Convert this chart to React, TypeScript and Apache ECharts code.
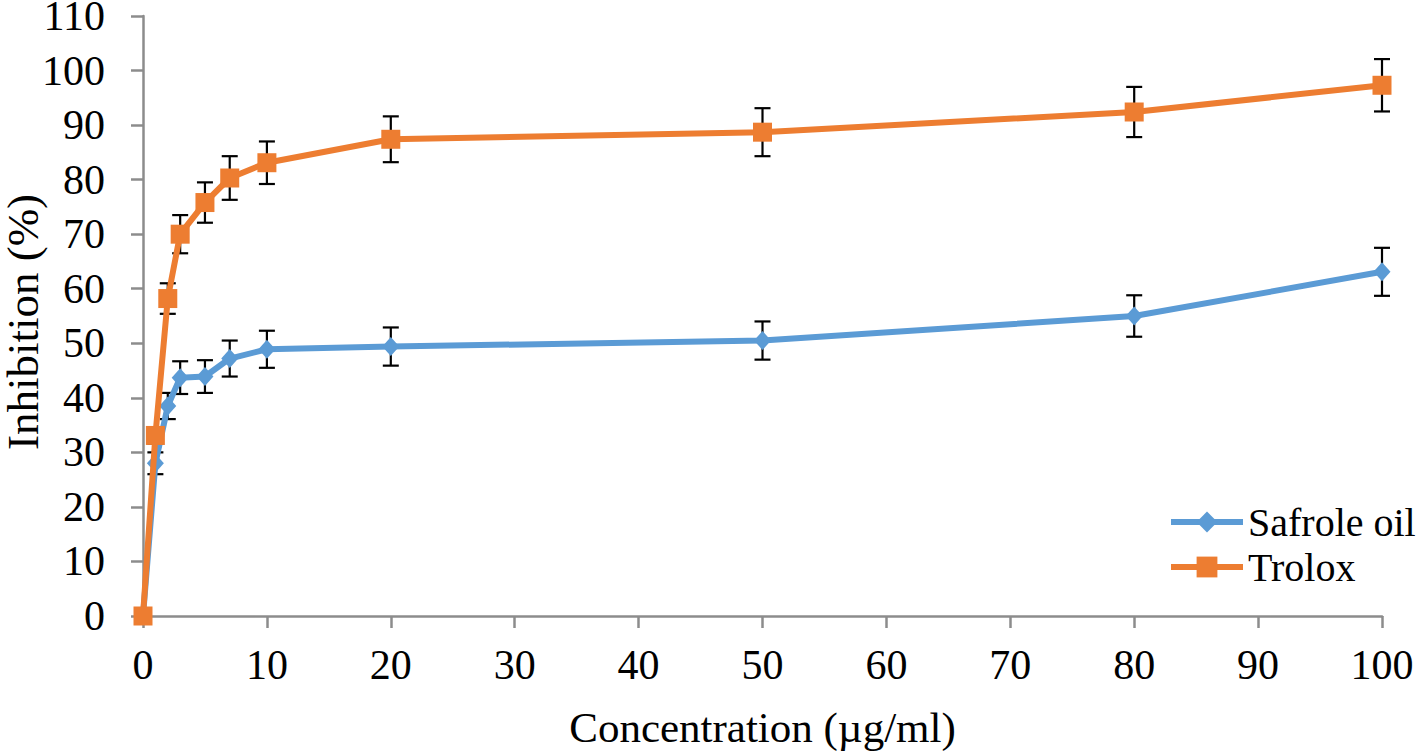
import React, { useEffect, useRef } from "react";
import * as echarts from "echarts";

const xValues = [0, 1, 2, 3, 5, 7, 10, 20, 50, 80, 100];
const safrole = [0, 28.0, 38.5, 43.7, 43.9, 47.2, 48.9, 49.4, 50.5, 55.0, 63.1];
const safroleErr = [0, 2.0, 2.4, 3.0, 3.0, 3.3, 3.4, 3.5, 3.5, 3.8, 4.4];
const trolox = [0, 33.1, 58.2, 70.0, 75.8, 80.3, 83.1, 87.4, 88.7, 92.4, 97.3];
const troloxErr = [0, 1.5, 2.8, 3.5, 3.7, 4.0, 3.9, 4.2, 4.4, 4.6, 4.8];
const seriesNames = ["Safrole oil", "Trolox"];
const xTitle = "Concentration (µg/ml)";
const yTitle = "Inhibition (%)";

const FONT = "Liberation Serif, Times New Roman, serif";
const BLUE = "#5B9BD5";
const ORANGE = "#ED7D31";
const AXIS = "#8C8C8C";

function errorSeries(values: number[], errs: number[]) {
  return {
    type: "custom",
    z: 1,
    silent: true,
    encode: { x: 0, y: 1 },
    data: xValues.map((x, i) => [x, values[i], errs[i]]),
    renderItem: (params: any, api: any) => {
      const x = api.value(0);
      const y = api.value(1);
      const e = api.value(2);
      if (!e) return null;
      const top = api.coord([x, y + e]);
      const bot = api.coord([x, y - e]);
      const hw = 8;
      const style = { stroke: "#000", lineWidth: 2.2 };
      return {
        type: "group",
        children: [
          { type: "line", shape: { x1: top[0], y1: top[1], x2: bot[0], y2: bot[1] }, style },
          { type: "line", shape: { x1: top[0] - hw, y1: top[1], x2: top[0] + hw, y2: top[1] }, style },
          { type: "line", shape: { x1: bot[0] - hw, y1: bot[1], x2: bot[0] + hw, y2: bot[1] }, style },
        ],
      };
    },
  };
}

export default function App() {
  const ref = useRef<HTMLDivElement>(null);
  useEffect(() => {
    if (!ref.current) return;
    const chart = echarts.init(ref.current, null, { renderer: "svg" });
    chart.setOption({
      animation: false,
      backgroundColor: "#fff",
      grid: {
        left: 143,
        right: 36,
        top: 16,
        bottom: 136,
        containLabel: false,
        outerBoundsMode: "none",
      },
      legend: {
        orient: "vertical",
        left: 1163,
        top: 497,
        itemWidth: 72,
        itemHeight: 26,
        itemGap: 5,
        data: seriesNames,
        lineStyle: { width: 6 },
        textStyle: { fontFamily: FONT, fontSize: 40, color: "#000" },
      },
      xAxis: {
        type: "value",
        min: 0,
        max: 100,
        interval: 10,
        name: xTitle,
        nameLocation: "middle",
        nameGap: 90,
        nameTextStyle: { fontFamily: FONT, fontSize: 43, color: "#000" },
        axisLine: { show: true, lineStyle: { color: AXIS, width: 2.5 } },
        axisTick: { show: true, length: 12, lineStyle: { color: AXIS, width: 2.5 } },
        axisLabel: { fontFamily: FONT, fontSize: 42, color: "#000", margin: 28 },
        splitLine: { show: false },
      },
      yAxis: {
        type: "value",
        min: 0,
        max: 110,
        interval: 10,
        name: yTitle,
        nameLocation: "middle",
        nameGap: 98,
        nameMoveOverlap: false,
        nameTextStyle: { fontFamily: FONT, fontSize: 45, color: "#000", padding: [0, 12, 0, 0] },
        axisLine: { show: true, lineStyle: { color: AXIS, width: 2.5 } },
        axisTick: { show: true, length: 12, lineStyle: { color: AXIS, width: 2.5 } },
        axisLabel: { fontFamily: FONT, fontSize: 42, color: "#000", margin: 38 },
        splitLine: { show: false },
      },
      series: [
        errorSeries(safrole, safroleErr),
        errorSeries(trolox, troloxErr),
        {
          name: seriesNames[0],
          type: "line",
          z: 2,
          data: xValues.map((x, i) => [x, safrole[i]]),
          symbol: "diamond",
          symbolSize: [17, 19],
          lineStyle: { color: BLUE, width: 6 },
          itemStyle: { color: BLUE },
        },
        {
          name: seriesNames[1],
          type: "line",
          z: 3,
          data: xValues.map((x, i) => [x, trolox[i]]),
          symbol: "rect",
          symbolSize: 19,
          lineStyle: { color: ORANGE, width: 6 },
          itemStyle: { color: ORANGE },
        },
      ],
    });
    return () => chart.dispose();
  }, []);
  return (
    <div
      ref={ref}
      style={{ position: "fixed", left: 0, top: 0, width: 1418, height: 752, background: "#fff" }}
    />
  );
}
